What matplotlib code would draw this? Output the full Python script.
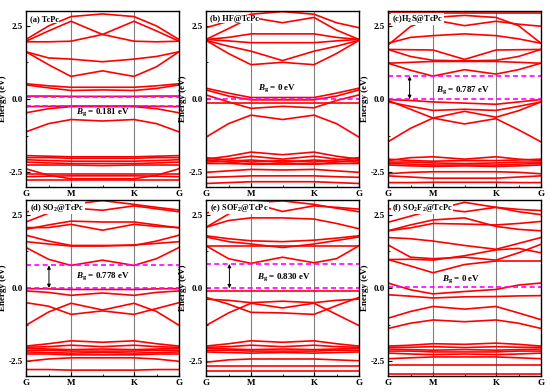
import matplotlib
matplotlib.use("Agg")
import matplotlib.pyplot as plt

plt.rcParams['font.family'] = 'Liberation Serif'
plt.rcParams['font.weight'] = 'bold'
plt.rcParams['mathtext.fontset'] = 'custom'
plt.rcParams['mathtext.rm'] = 'Liberation Serif:bold'
plt.rcParams['mathtext.it'] = 'Liberation Serif:italic:bold'
plt.rcParams['mathtext.bf'] = 'Liberation Serif:bold'

# k-path: G, mid, M, mid, K, mid, G
kpts = [0, 0.5, 1.0, 1.7, 2.4, 2.9, 3.4]
kticks = [0, 1.0, 2.4, 3.4]
klabels = ['G', 'M', 'K', 'G']

titles = ['(a) TcPc', '(b) HF@TcPc', '(c)H$_2$S@TcPc',
          '(d) SO$_2$@TcPc', '(e) SOF$_2$@TcPc', '(f) SO$_2$F$_2$@TcPc']
gap_text = ['0.181 eV', '0 eV', '0.787 eV', '0.778 eV', '0.830 eV', '0 eV']

#band energies (eV) at the k points above
bands_a = [
    [2.03, 2.49, 2.81, 2.90, 2.81, 2.49, 2.03],
    [1.97, 2.32, 2.65, 2.20, 1.97, 1.95, 1.97],
    [1.95, 1.95, 1.97, 2.20, 2.65, 2.32, 1.97],
    [1.61, 1.40, 1.36, 1.27, 1.36, 1.45, 1.61],
    [1.61, 1.17, 0.77, 0.96, 0.77, 1.10, 1.61],
    [0.52, 0.45, 0.40, 0.40, 0.40, 0.45, 0.52],
    [0.48, 0.38, 0.29, 0.31, 0.29, 0.36, 0.48],
    [0.10, 0.10, 0.09, 0.09, 0.09, 0.10, 0.10],
    [-0.26, -0.25, -0.24, -0.24, -0.24, -0.25, -0.26],
    [-0.47, -0.33, -0.26, -0.26, -0.26, -0.33, -0.47],
    [-1.12, -0.84, -0.70, -0.75, -0.70, -0.84, -1.12],
    [-1.93, -1.95, -1.97, -1.97, -1.97, -1.95, -1.93],
    [-2.00, -2.00, -2.02, -2.02, -2.02, -2.00, -2.00],
    [-2.07, -2.10, -2.12, -2.12, -2.12, -2.10, -2.07],
    [-2.15, -2.18, -2.20, -2.20, -2.20, -2.18, -2.15],
    [-2.25, -2.25, -2.25, -2.27, -2.25, -2.25, -2.25],
    [-2.38, -2.60, -2.72, -2.72, -2.72, -2.60, -2.38],
    [-2.55, -2.55, -2.55, -2.55, -2.55, -2.55, -2.55],
    [-2.65, -2.63, -2.62, -2.62, -2.62, -2.63, -2.65],
    [-2.75, -2.75, -2.75, -2.75, -2.75, -2.75, -2.75],
]
bands_b = [
    [2.43, 2.65, 2.89, 2.98, 2.89, 2.60, 2.43],
    [2.03, 2.40, 2.78, 2.60, 2.78, 2.35, 2.03],
    [2.03, 2.10, 2.22, 2.22, 2.22, 2.10, 2.03],
    [2.03, 1.98, 1.92, 1.92, 1.92, 1.98, 2.03],
    [2.00, 1.80, 1.63, 1.31, 1.63, 1.80, 2.00],
    [2.00, 1.55, 1.17, 1.25, 1.17, 1.55, 2.00],
    [0.37, 0.20, 0.05, 0.05, 0.05, 0.20, 0.37],
    [0.31, 0.10, -0.03, -0.03, -0.03, 0.10, 0.31],
    [0.14, -0.10, -0.32, -0.25, -0.30, -0.05, 0.14],
    [-0.15, -0.15, -0.15, -0.15, -0.15, -0.15, -0.15],
    [-1.30, -0.84, -0.55, -0.70, -0.55, -0.84, -1.30],
    [-2.05, -1.95, -1.81, -1.90, -1.81, -1.95, -2.05],
    [-2.10, -2.05, -1.95, -2.05, -1.95, -2.05, -2.10],
    [-2.00, -2.08, -2.15, -2.10, -2.15, -2.08, -2.00],
    [-2.15, -2.12, -2.08, -2.15, -2.08, -2.12, -2.15],
    [-2.08, -2.15, -2.22, -2.18, -2.22, -2.15, -2.08],
    [-2.20, -2.20, -2.22, -2.22, -2.22, -2.20, -2.20],
    [-2.50, -2.45, -2.40, -2.42, -2.40, -2.45, -2.50],
    [-2.67, -2.65, -2.62, -2.62, -2.62, -2.65, -2.67],
    [-2.88, -2.85, -2.82, -2.82, -2.82, -2.85, -2.88],
]
bands_c = [
    [2.92, 2.92, 2.92, 2.92, 2.92, 2.92, 2.92],
    [1.84, 2.47, 2.78, 2.85, 2.78, 2.50, 1.90],
    [2.55, 2.62, 2.70, 2.50, 2.65, 2.55, 2.48],
    [1.90, 2.10, 2.16, 2.22, 2.16, 2.05, 1.90],
    [1.69, 1.68, 1.67, 1.35, 1.67, 1.68, 1.69],
    [1.69, 1.45, 1.32, 1.30, 1.32, 1.45, 1.69],
    [1.22, 1.25, 1.28, 1.28, 1.28, 1.25, 1.22],
    [1.22, 0.98, 0.78, 1.00, 0.85, 1.00, 1.22],
    [-0.02, -0.05, -0.10, -0.14, -0.18, -0.10, -0.02],
    [-0.10, -0.25, -0.39, -0.35, -0.39, -0.25, -0.10],
    [-0.05, -0.35, -0.65, -0.42, -0.62, -0.40, -0.10],
    [-1.46, -1.00, -0.65, -0.85, -0.67, -1.05, -1.46],
    [-2.10, -2.00, -1.97, -2.05, -1.97, -2.05, -2.10],
    [-2.05, -2.10, -2.12, -2.10, -2.10, -2.08, -2.05],
    [-2.15, -2.15, -2.18, -2.20, -2.18, -2.15, -2.15],
    [-2.20, -2.22, -2.25, -2.25, -2.25, -2.22, -2.20],
    [-2.25, -2.28, -2.30, -2.28, -2.30, -2.28, -2.25],
    [-2.55, -2.50, -2.48, -2.48, -2.48, -2.50, -2.55],
    [-2.62, -2.66, -2.70, -2.70, -2.70, -2.66, -2.62],
    [-2.85, -2.85, -2.84, -2.84, -2.84, -2.85, -2.85],
]
bands_d = [
    [2.25, 2.55, 2.85, 2.98, 2.85, 2.75, 2.66],
    [2.60, 2.65, 2.73, 2.65, 2.80, 2.70, 2.60],
    [2.00, 2.15, 2.28, 2.25, 2.25, 2.15, 2.05],
    [2.06, 2.06, 2.17, 1.97, 2.17, 2.10, 2.06],
    [1.80, 1.60, 1.45, 1.45, 1.45, 1.60, 1.80],
    [1.58, 1.50, 1.43, 1.43, 1.47, 1.52, 1.58],
    [1.38, 0.98, 0.77, 0.95, 0.77, 1.00, 1.38],
    [-0.02, -0.03, -0.05, -0.05, -0.05, -0.03, -0.02],
    [-0.10, -0.15, -0.25, -0.17, -0.25, -0.15, -0.10],
    [-0.50, -0.62, -0.90, -0.78, -0.90, -0.70, -0.50],
    [-1.27, -0.82, -0.52, -0.75, -0.52, -0.80, -1.27],
    [-1.98, -1.90, -1.80, -1.85, -1.80, -1.90, -1.98],
    [-2.02, -2.00, -1.95, -2.00, -1.95, -2.00, -2.02],
    [-2.05, -2.08, -2.10, -2.08, -2.10, -2.08, -2.05],
    [-2.12, -2.12, -2.15, -2.15, -2.15, -2.12, -2.12],
    [-2.18, -2.20, -2.22, -2.20, -2.22, -2.20, -2.18],
    [-2.25, -2.25, -2.28, -2.28, -2.28, -2.25, -2.25],
    [-2.50, -2.42, -2.38, -2.38, -2.38, -2.42, -2.50],
    [-2.78, -2.78, -2.80, -2.80, -2.80, -2.78, -2.78],
]
bands_e = [
    [2.07, 2.52, 2.90, 2.61, 2.80, 2.75, 2.69],
    [2.55, 2.75, 2.90, 2.97, 2.85, 2.72, 2.60],
    [2.07, 2.30, 2.39, 2.39, 2.35, 2.20, 2.02],
    [1.78, 1.68, 1.61, 1.58, 1.63, 1.70, 1.78],
    [1.74, 1.58, 1.50, 1.38, 1.50, 1.62, 1.74],
    [1.44, 1.44, 1.44, 1.44, 1.44, 1.44, 1.44],
    [1.44, 1.00, 0.84, 1.05, 0.86, 1.00, 1.44],
    [-0.11, -0.11, -0.11, -0.11, -0.11, -0.11, -0.11],
    [-0.32, -0.55, -0.83, -0.85, -0.90, -0.60, -0.32],
    [-1.28, -0.85, -0.52, -0.68, -0.52, -0.90, -1.28],
    [-0.38, -0.42, -0.50, -0.45, -0.50, -0.42, -0.38],
    [-1.98, -1.90, -1.80, -1.85, -1.80, -1.90, -1.98],
    [-2.02, -2.00, -1.95, -2.00, -1.95, -2.00, -2.02],
    [-2.05, -2.08, -2.10, -2.08, -2.10, -2.08, -2.05],
    [-2.12, -2.12, -2.15, -2.15, -2.15, -2.12, -2.12],
    [-2.18, -2.20, -2.22, -2.20, -2.22, -2.20, -2.18],
    [-2.53, -2.45, -2.42, -2.42, -2.42, -2.45, -2.48],
    [-2.65, -2.65, -2.65, -2.65, -2.65, -2.65, -2.65],
    [-2.84, -2.84, -2.84, -2.84, -2.84, -2.84, -2.84],
]
bands_f = [
    [2.24, 2.45, 2.66, 2.92, 2.75, 2.68, 2.64],
    [2.70, 2.65, 2.73, 2.60, 2.75, 2.60, 2.50],
    [1.95, 2.15, 2.32, 2.39, 2.10, 2.00, 1.95],
    [1.95, 2.05, 2.20, 2.18, 2.15, 2.20, 2.27],
    [1.72, 1.68, 1.60, 1.45, 1.32, 1.52, 1.72],
    [1.47, 1.05, 1.00, 1.05, 0.95, 1.20, 1.49],
    [0.97, 0.98, 0.95, 1.10, 1.30, 1.35, 1.20],
    [0.97, 0.75, 0.52, 0.80, 0.92, 0.92, 0.92],
    [0.17, -0.06, -0.20, -0.12, -0.05, 0.10, 0.17],
    [-0.23, -0.28, -0.34, -0.30, -0.29, -0.27, -0.26],
    [-1.03, -0.80, -0.63, -0.72, -0.63, -0.85, -1.08],
    [-1.38, -1.20, -1.09, -1.15, -1.09, -1.20, -1.38],
    [-1.98, -1.95, -1.90, -1.92, -1.88, -1.92, -1.98],
    [-2.02, -2.02, -2.00, -2.03, -2.00, -2.02, -2.02],
    [-2.08, -2.10, -2.12, -2.10, -2.12, -2.10, -2.08],
    [-2.15, -2.15, -2.18, -2.18, -2.18, -2.15, -2.15],
    [-2.22, -2.25, -2.27, -2.25, -2.27, -2.25, -2.22],
    [-2.41, -2.38, -2.35, -2.35, -2.35, -2.38, -2.41],
    [-2.64, -2.64, -2.64, -2.64, -2.64, -2.64, -2.64],
    [-2.92, -2.92, -2.92, -2.92, -2.92, -2.92, -2.92],
]
all_bands = [bands_a, bands_b, bands_c, bands_d, bands_e, bands_f]

#dashed band-edge levels and gap arrows
edges = [[0.07, -0.23], [-0.01], [0.78, 0.0], [0.77, 0.0], [0.82, -0.01], [0.02]]
arrow_x = [None, None, 0.48, 0.51, 0.52, None]
text_xy = [(1.72, -0.45), (1.57, 0.37), (1.66, 0.32), (1.70, 0.39), (1.74, 0.36), (1.62, 0.29)]

fig = plt.figure(figsize=(5.5, 3.92), dpi=100)
lefts = [26, 206, 388]
tops = [11, 200]

for i in range(6):
    row, col = i // 3, i % 3
    ax = fig.add_axes([lefts[col] / 550, 1 - (tops[row] + 176) / 392, 153 / 550, 176 / 392])
    for b in all_bands[i]:
        ax.plot(kpts, b, color='red', lw=1.2)
    for e in edges[i]:
        ax.axhline(e, color='#ff00ff', lw=1.2, ls=(0, (3, 2)))
    for kx in kticks[1:3]:
        ax.axvline(kx, color='gray', lw=0.8, zorder=0)
    if arrow_x[i] is not None:
        ax.annotate('', xy=(arrow_x[i], edges[i][0]), xytext=(arrow_x[i], edges[i][1]),
                    arrowprops=dict(arrowstyle='<|-|>', lw=0.7, color='black',
                                    mutation_scale=5, shrinkA=0, shrinkB=0))
    ax.text(text_xy[i][0], text_xy[i][1], '$B_{\\rm g}$ = ' + gap_text[i], fontsize=6.5,
            ha='center', va='center', fontweight='bold')
    ax.text(0.025, 0.955, titles[i], transform=ax.transAxes, fontsize=6,
            ha='left', va='center', fontweight='bold',
            bbox=dict(facecolor='white', edgecolor='none', pad=0.3))
    ax.set_xlim(0, 3.4)
    ax.set_ylim(-3.0, 3.0)
    ax.set_xticks(kticks)
    ax.set_xticklabels(klabels)
    ax.set_xticks([0.5, 1.7, 2.9], minor=True)
    ax.set_yticks([-2.5, 0.0, 2.5])
    ax.set_yticks([-1.25, 1.25], minor=True)
    ax.set_yticklabels(['-2.5', '0.0', '2.5'])
    ax.tick_params(direction='in', labelsize=6.5, length=3, width=0.8, pad=2)
    ax.tick_params(which='minor', direction='in', length=1.5, width=0.6)
    ax.set_ylabel('Energy (eV)', fontsize=6.5, fontweight='bold')
    ax.yaxis.set_label_coords(-0.125, 0.5)
    for s in ax.spines.values():
        s.set_linewidth(1.0)

fig.savefig('out.png', dpi=100)
